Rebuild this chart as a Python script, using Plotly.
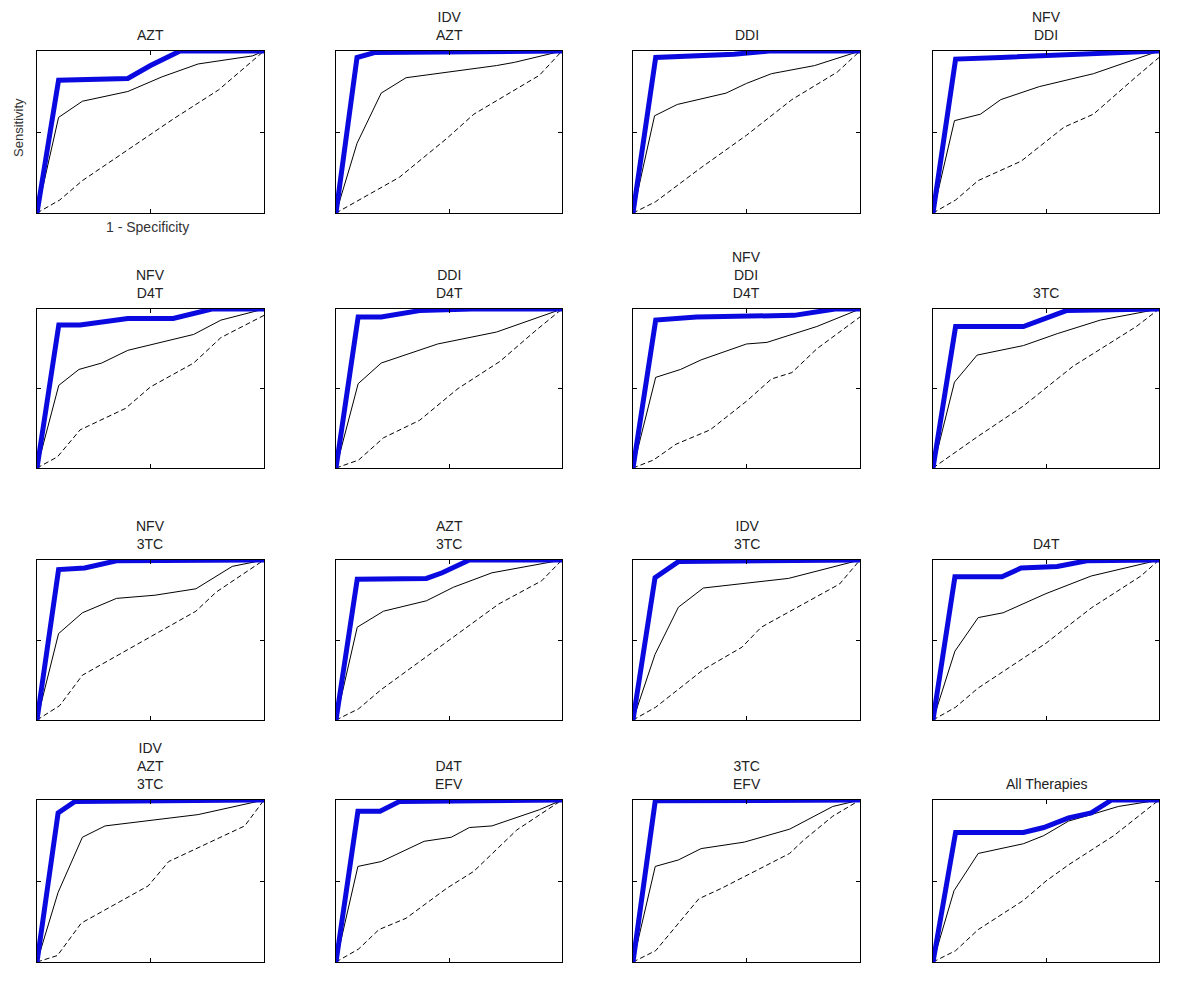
import plotly.graph_objects as go

# page body has an 8px margin, so the figure is drawn a bit smaller and offset
PAGE_W, PAGE_H = 1200, 987
OFF = 8
W, H = PAGE_W - 2 * OFF, PAGE_H - 2 * OFF

# panel titles, row by row
titles = [
    "AZT", "IDV<br>AZT", "DDI", "NFV<br>DDI",
    "NFV<br>D4T", "DDI<br>D4T", "NFV<br>DDI<br>D4T", "3TC",
    "NFV<br>3TC", "AZT<br>3TC", "IDV<br>3TC", "D4T",
    "IDV<br>AZT<br>3TC", "D4T<br>EFV", "3TC<br>EFV", "All Therapies",
]

# ROC points (1 - specificity, sensitivity)
# blue = thick curve, black = thin curve, dash = dashed curve
azt_blue = [(0, 0), (0.095, 0.82), (0.40, 0.83), (0.5, 0.91), (0.63, 1.0), (1, 1)]
azt_black = [(0, 0), (0.095, 0.59), (0.2, 0.69), (0.40, 0.75), (0.55, 0.84), (0.71, 0.92), (0.95, 0.97), (1, 1)]
azt_dash = [(0, 0), (0.1, 0.08), (0.2, 0.2), (0.4, 0.39), (0.6, 0.58), (0.8, 0.76), (0.9, 0.88), (1, 1)]

idv_azt_blue = [(0, 0), (0.093, 0.96), (0.17, 0.99), (1, 1)]
idv_azt_black = [(0, 0), (0.093, 0.43), (0.20, 0.74), (0.31, 0.835), (0.71, 0.91), (0.79, 0.93), (1, 1)]
idv_azt_dash = [(0, 0), (0.28, 0.22), (0.49, 0.46), (0.61, 0.61), (0.9, 0.85), (1, 1)]

ddi_blue = [(0, 0), (0.10, 0.96), (0.445, 0.98), (0.6, 1.0), (1, 1)]
ddi_black = [(0, 0), (0.095, 0.60), (0.195, 0.67), (0.41, 0.74), (0.5, 0.80), (0.61, 0.86), (0.80, 0.91), (1, 1)]
ddi_dash = [(0, 0), (0.1, 0.07), (0.3, 0.28), (0.5, 0.48), (0.7, 0.70), (0.9, 0.87), (1, 1)]

nfv_ddi_blue = [(0, 0), (0.10, 0.95), (0.3, 0.96), (0.5, 0.97), (0.7, 0.98), (1, 1)]
nfv_ddi_black = [(0, 0), (0.095, 0.57), (0.21, 0.61), (0.30, 0.70), (0.47, 0.78), (0.71, 0.86), (1, 1)]
nfv_ddi_dash = [(0, 0), (0.1, 0.08), (0.2, 0.2), (0.39, 0.32), (0.58, 0.53), (0.71, 0.61), (0.89, 0.83), (1, 0.96)]

nfv_d4t_blue = [(0, 0), (0.096, 0.90), (0.19, 0.90), (0.40, 0.94), (0.60, 0.94), (0.77, 1.0), (1, 1)]
nfv_d4t_black = [(0, 0), (0.096, 0.52), (0.185, 0.62), (0.285, 0.66), (0.40, 0.74), (0.69, 0.84), (0.81, 0.93), (1, 1)]
nfv_d4t_dash = [(0, 0), (0.09, 0.07), (0.19, 0.24), (0.39, 0.375), (0.50, 0.51), (0.69, 0.66), (0.81, 0.82), (1, 0.96)]

ddi_d4t_blue = [(0, 0), (0.098, 0.95), (0.2, 0.95), (0.37, 0.99), (0.6, 1.0), (1, 1)]
ddi_d4t_black = [(0, 0), (0.098, 0.53), (0.2, 0.66), (0.45, 0.78), (0.71, 0.855), (0.86, 0.93), (1, 1)]
ddi_d4t_dash = [(0, 0), (0.1, 0.05), (0.21, 0.19), (0.37, 0.30), (0.54, 0.50), (0.725, 0.67), (0.88, 0.86), (1, 1)]

nfv_ddi_d4t_blue = [(0, 0), (0.10, 0.93), (0.28, 0.95), (0.61, 0.96), (0.71, 0.96), (0.89, 1.0), (1, 1)]
nfv_ddi_d4t_black = [(0, 0), (0.10, 0.57), (0.21, 0.62), (0.30, 0.68), (0.50, 0.78), (0.59, 0.79), (0.81, 0.89), (1, 1)]
nfv_ddi_d4t_dash = [(0, 0), (0.09, 0.05), (0.19, 0.15), (0.34, 0.24), (0.50, 0.42), (0.61, 0.56), (0.70, 0.60), (0.81, 0.75), (1, 0.95)]

tc3_blue = [(0, 0), (0.10, 0.89), (0.40, 0.89), (0.49, 0.94), (0.59, 0.99), (1, 1)]
tc3_black = [(0, 0), (0.095, 0.54), (0.195, 0.71), (0.40, 0.77), (0.55, 0.845), (0.74, 0.93), (1, 1)]
tc3_dash = [(0, 0), (0.2, 0.2), (0.4, 0.39), (0.62, 0.64), (0.90, 0.89), (1, 1)]

nfv_3tc_blue = [(0, 0), (0.095, 0.94), (0.21, 0.95), (0.35, 0.995), (1, 1)]
nfv_3tc_black = [(0, 0), (0.095, 0.54), (0.20, 0.67), (0.35, 0.76), (0.52, 0.78), (0.70, 0.82), (0.86, 0.96), (1, 1)]
nfv_3tc_dash = [(0, 0), (0.1, 0.09), (0.20, 0.28), (0.35, 0.40), (0.52, 0.54), (0.70, 0.68), (0.79, 0.80), (1, 1)]

azt_3tc_blue = [(0, 0), (0.094, 0.88), (0.40, 0.885), (0.47, 0.92), (0.59, 1.0), (1, 1)]
azt_3tc_black = [(0, 0), (0.094, 0.58), (0.21, 0.68), (0.40, 0.745), (0.52, 0.83), (0.69, 0.92), (1, 1)]
azt_3tc_dash = [(0, 0), (0.1, 0.07), (0.2, 0.19), (0.485, 0.485), (0.72, 0.725), (0.91, 0.87), (1, 1)]

idv_3tc_blue = [(0, 0), (0.097, 0.89), (0.20, 0.99), (1, 1)]
idv_3tc_black = [(0, 0), (0.097, 0.41), (0.20, 0.705), (0.31, 0.825), (0.685, 0.885), (1, 1)]
idv_3tc_dash = [(0, 0), (0.1, 0.08), (0.31, 0.315), (0.48, 0.455), (0.565, 0.58), (0.91, 0.85), (1, 1)]

d4t_blue = [(0, 0), (0.097, 0.895), (0.305, 0.895), (0.39, 0.95), (0.55, 0.96), (0.68, 0.995), (1, 1)]
d4t_black = [(0, 0), (0.097, 0.43), (0.2, 0.64), (0.31, 0.67), (0.50, 0.79), (0.70, 0.90), (1, 1)]
d4t_dash = [(0, 0), (0.1, 0.08), (0.2, 0.2), (0.5, 0.48), (0.70, 0.70), (0.92, 0.90), (1, 1)]

idv_azt_3tc_blue = [(0, 0), (0.093, 0.92), (0.166, 0.99), (1, 1)]
idv_azt_3tc_black = [(0, 0), (0.093, 0.43), (0.20, 0.77), (0.30, 0.84), (0.71, 0.91), (1, 1)]
idv_azt_3tc_dash = [(0, 0), (0.09, 0.04), (0.195, 0.24), (0.49, 0.47), (0.58, 0.62), (0.915, 0.84), (1, 1)]

d4t_efv_blue = [(0, 0), (0.097, 0.93), (0.195, 0.93), (0.28, 0.99), (1, 1)]
d4t_efv_black = [(0, 0), (0.097, 0.59), (0.20, 0.62), (0.39, 0.745), (0.51, 0.77), (0.59, 0.83), (0.69, 0.84), (0.90, 0.94), (1, 1)]
d4t_efv_dash = [(0, 0), (0.1, 0.08), (0.19, 0.20), (0.31, 0.27), (0.49, 0.455), (0.61, 0.56), (0.80, 0.815), (1, 1)]

tc3_efv_blue = [(0, 0), (0.098, 0.995), (1, 1)]
tc3_efv_black = [(0, 0), (0.098, 0.59), (0.20, 0.63), (0.30, 0.70), (0.49, 0.74), (0.69, 0.82), (0.88, 0.96), (1, 1)]
tc3_efv_dash = [(0, 0), (0.1, 0.07), (0.29, 0.39), (0.39, 0.455), (0.69, 0.67), (0.75, 0.75), (0.88, 0.9), (1, 1)]

all_blue = [(0, 0), (0.10, 0.80), (0.40, 0.80), (0.49, 0.83), (0.60, 0.89), (0.70, 0.92), (0.79, 1.0), (1, 1)]
all_black = [(0, 0), (0.093, 0.44), (0.20, 0.67), (0.40, 0.73), (0.49, 0.78), (0.60, 0.87), (0.70, 0.91), (0.82, 0.96), (1, 1)]
all_dash = [(0, 0), (0.1, 0.07), (0.2, 0.2), (0.4, 0.38), (0.5, 0.5), (0.6, 0.6), (0.8, 0.78), (1, 1)]

panels = [
    (azt_blue, azt_black, azt_dash),
    (idv_azt_blue, idv_azt_black, idv_azt_dash),
    (ddi_blue, ddi_black, ddi_dash),
    (nfv_ddi_blue, nfv_ddi_black, nfv_ddi_dash),
    (nfv_d4t_blue, nfv_d4t_black, nfv_d4t_dash),
    (ddi_d4t_blue, ddi_d4t_black, ddi_d4t_dash),
    (nfv_ddi_d4t_blue, nfv_ddi_d4t_black, nfv_ddi_d4t_dash),
    (tc3_blue, tc3_black, tc3_dash),
    (nfv_3tc_blue, nfv_3tc_black, nfv_3tc_dash),
    (azt_3tc_blue, azt_3tc_black, azt_3tc_dash),
    (idv_3tc_blue, idv_3tc_black, idv_3tc_dash),
    (d4t_blue, d4t_black, d4t_dash),
    (idv_azt_3tc_blue, idv_azt_3tc_black, idv_azt_3tc_dash),
    (d4t_efv_blue, d4t_efv_black, d4t_efv_dash),
    (tc3_efv_blue, tc3_efv_black, tc3_efv_dash),
    (all_blue, all_black, all_dash),
]

# pixel boxes of the panels on the page
col_px = [(37, 264), (336, 562), (633, 860), (933, 1159)]
row_px = [(51, 213), (309, 468), (560, 720), (800, 962)]


def px(x):
    return (x - OFF) / W


def py(y):
    return 1 - (y - OFF) / H


FONT = "Liberation Sans, Arial, sans-serif"

fig = go.Figure()
annotations = []

for i, (blue, black, dash) in enumerate(panels):
    r, c = divmod(i, 4)
    n = "" if i == 0 else str(i + 1)
    xa, ya = "x" + n, "y" + n
    x0, x1 = col_px[c]
    y0, y1 = row_px[r]

    for pts, line in [
        (dash, dict(color="black", width=1, dash="5px,3px")),
        (black, dict(color="black", width=1)),
        (blue, dict(color="#0a0ae0", width=5)),
    ]:
        fig.add_trace(go.Scatter(
            x=[p[0] for p in pts], y=[p[1] for p in pts],
            mode="lines", line=line, xaxis=xa, yaxis=ya,
            showlegend=False, hoverinfo="skip",
        ))

    axis_style = dict(
        range=[0, 1], showgrid=False, zeroline=False,
        showline=True, linecolor="black", linewidth=1, mirror="ticks",
        ticks="inside", ticklen=4, tickcolor="black", tickvals=[0.5],
        showticklabels=False, fixedrange=True,
    )
    fig.update_layout(**{
        "xaxis" + n: dict(axis_style, domain=[px(x0), px(x1)], anchor=ya),
        "yaxis" + n: dict(axis_style, domain=[py(y1), py(y0)], anchor=xa),
    })

    annotations.append(dict(
        text=titles[i], x=px((x0 + x1) / 2), y=py(y0 - 6),
        xref="paper", yref="paper", xanchor="center", yanchor="bottom",
        showarrow=False, font=dict(size=14, color="#222", family=FONT),
    ))

annotations.append(dict(
    text="Sensitivity", x=px(18), y=py(128), xref="paper", yref="paper",
    xanchor="center", yanchor="middle",
    textangle=-90, showarrow=False, font=dict(size=13, color="#333", family=FONT),
))
annotations.append(dict(
    text="1 - Specificity", x=px(147), y=py(227), xref="paper", yref="paper",
    xanchor="center", yanchor="middle",
    showarrow=False, font=dict(size=14, color="#333", family=FONT),
))

fig.update_layout(
    width=W, height=H,
    margin=dict(l=0, r=0, t=0, b=0),
    paper_bgcolor="white", plot_bgcolor="white",
    annotations=annotations,
    showlegend=False,
)

fig.write_html("out.html")
